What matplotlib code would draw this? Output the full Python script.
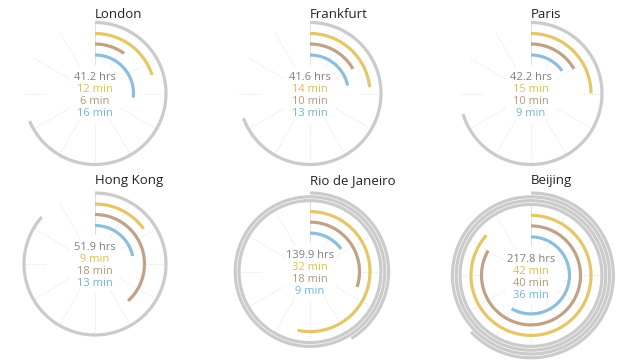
import numpy as np
import matplotlib
matplotlib.use("Agg")
import matplotlib.pyplot as plt

plt.rcParams['font.family'] = ['Open Sans', 'DejaVu Sans']

# data: labels as printed, arc lengths as drawn in the reference
cities = ["London", "Frankfurt", "Paris", "Hong Kong", "Rio de Janeiro", "Beijing"]
hours = [41.2, 41.6, 42.2, 51.9, 139.9, 217.8]
min_yellow = [12, 14, 15, 9, 32, 42]
min_brown = [6, 10, 10, 18, 18, 40]
min_blue = [16, 13, 9, 13, 9, 36]

hours_arc = [41.2, 41.6, 42.2, 51.9, 144.7, 217.8]
yellow_arc = [12, 14, 15, 9, 32, 52]
brown_arc = [6, 10, 10, 23, 18, 50]
blue_arc = [16, 13, 9, 13, 9, 35]

HRS_PER_RING = 60.0
MIN_PER_RING = 60.0

c_gray = "#cbcbcb"
c_yellow = "#e5c768"
c_brown = "#c1a286"
c_blue = "#8bbfdc"
t_gray = "#7f7f7f"
t_yellow = "#dfbf50"
t_brown = "#b5977c"
t_blue = "#74b2d6"

col_x = [95, 310, 531]
row_top = [22.5, 193]
title_y = [18.5, 184]
r0, dr = 71, 3.8
lw = 2.3


def arc(ax, cx, cy, r, frac, color):
    th = np.linspace(0, 2 * np.pi * frac, 300)
    ax.plot(cx + r * np.sin(th), cy - r * np.cos(th), color=color, lw=lw,
            solid_capstyle="butt", zorder=3)


fig = plt.figure(figsize=(6.4, 3.63), dpi=100)
ax = fig.add_axes([0, 0, 1, 1])
ax.set_xlim(0, 640)
ax.set_ylim(363, 0)
ax.set_aspect("equal")
ax.axis("off")

for i, city in enumerate(cities):
    cx = col_x[i % 3]
    row = i // 3
    n_rings = int(np.ceil(hours_arc[i] / HRS_PER_RING))
    r_out = r0 + (n_rings - 1) * dr
    cy = row_top[row] + r_out

    # spokes
    for a in np.arange(0, 360, 30):
        t = np.radians(a)
        ls = "-" if a == 0 else ":"
        r_in = 50 if a in (90, 270) else 30
        ax.plot([cx + r_in * np.sin(t), cx + r0 * np.sin(t)],
                [cy - r_in * np.cos(t), cy - r0 * np.cos(t)],
                color="#e0e0e0", lw=0.7, ls=ls, zorder=1)

    # hour rings (spiral outward)
    for k in range(n_rings):
        frac = min(1.0, hours_arc[i] / HRS_PER_RING - k)
        arc(ax, cx, cy, r0 + k * dr, frac, c_gray)

    arc(ax, cx, cy, 60, yellow_arc[i] / MIN_PER_RING, c_yellow)
    arc(ax, cx, cy, 49.5, brown_arc[i] / MIN_PER_RING, c_brown)
    arc(ax, cx, cy, 38.5, blue_arc[i] / MIN_PER_RING, c_blue)

    ax.text(cx, title_y[row], city, ha="left", va="baseline",
            fontsize=9.5, color="#222222")

    lines = [("%.1f hrs" % hours[i], t_gray),
             ("%d min" % min_yellow[i], t_yellow),
             ("%d min" % min_brown[i], t_brown),
             ("%d min" % min_blue[i], t_blue)]
    for j, (s, c) in enumerate(lines):
        ax.text(cx, cy - 16 + 12 * j, s, ha="center", va="center",
                fontsize=8, color=c, zorder=4)

fig.savefig("out.png", dpi=100)
